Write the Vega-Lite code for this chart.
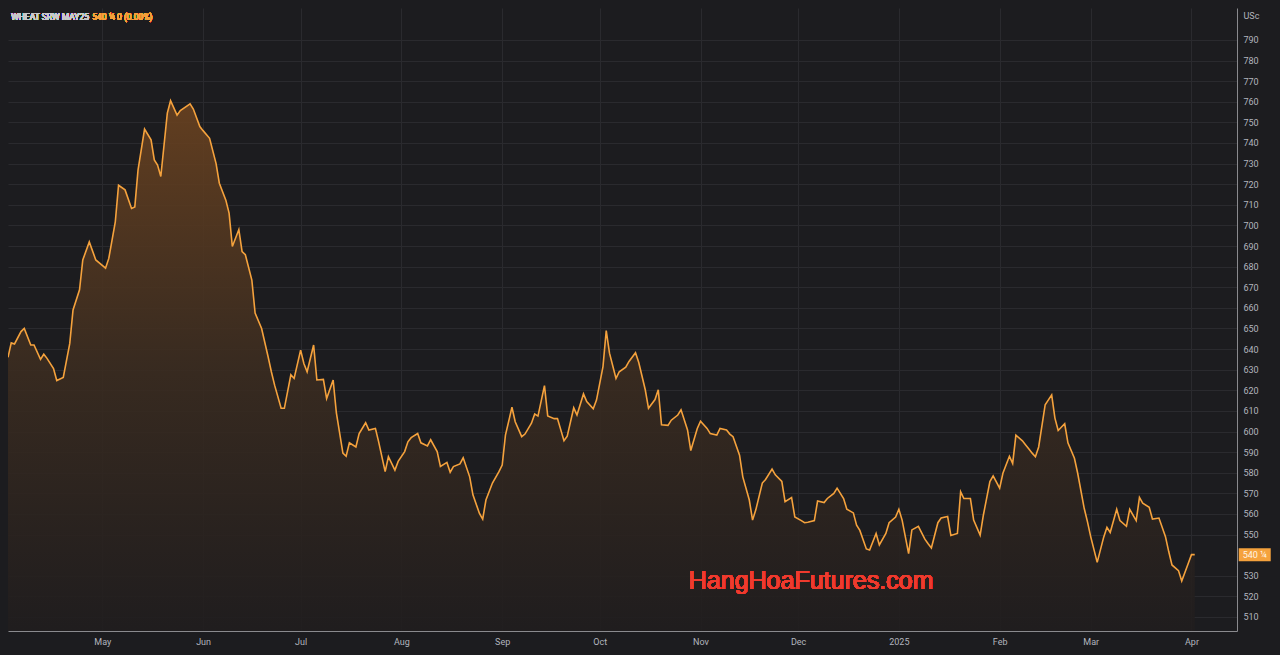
{
  "$schema": "https://vega.github.io/schema/vega-lite/v6.json",
  "width": 1229,
  "height": 623,
  "autosize": {"type": "none"},
  "padding": {"left": 8, "top": 8, "right": 43, "bottom": 24},
  "background": "#1c1c1f",
  "config": {
    "view": {"stroke": null, "fill": "#1c1c1f"},
    "font": "Roboto"
  },
  "data": {
    "values": [
      {"date": "2024-04-02", "price": 636},
      {"date": "2024-04-03", "price": 643},
      {"date": "2024-04-04", "price": 642.5},
      {"date": "2024-04-06", "price": 648.5},
      {"date": "2024-04-07", "price": 650},
      {"date": "2024-04-09", "price": 642},
      {"date": "2024-04-10", "price": 642},
      {"date": "2024-04-12", "price": 635},
      {"date": "2024-04-13", "price": 637.5},
      {"date": "2024-04-14", "price": 635.5},
      {"date": "2024-04-16", "price": 630.5},
      {"date": "2024-04-17", "price": 624.75},
      {"date": "2024-04-19", "price": 626.25},
      {"date": "2024-04-21", "price": 642.75},
      {"date": "2024-04-22", "price": 659},
      {"date": "2024-04-24", "price": 668.75},
      {"date": "2024-04-25", "price": 683.25},
      {"date": "2024-04-27", "price": 692},
      {"date": "2024-04-29", "price": 683.25},
      {"date": "2024-05-02", "price": 679.25},
      {"date": "2024-05-03", "price": 684},
      {"date": "2024-05-05", "price": 701.75},
      {"date": "2024-05-06", "price": 719.5},
      {"date": "2024-05-08", "price": 717.25},
      {"date": "2024-05-10", "price": 708.25},
      {"date": "2024-05-11", "price": 709},
      {"date": "2024-05-12", "price": 727},
      {"date": "2024-05-14", "price": 746.75},
      {"date": "2024-05-16", "price": 741.5},
      {"date": "2024-05-17", "price": 731.75},
      {"date": "2024-05-18", "price": 729.25},
      {"date": "2024-05-19", "price": 723.75},
      {"date": "2024-05-21", "price": 754.5},
      {"date": "2024-05-22", "price": 760.5},
      {"date": "2024-05-24", "price": 753.5},
      {"date": "2024-05-25", "price": 755.75},
      {"date": "2024-05-28", "price": 759},
      {"date": "2024-05-29", "price": 756.5},
      {"date": "2024-05-31", "price": 748},
      {"date": "2024-06-01", "price": 746},
      {"date": "2024-06-03", "price": 742.25},
      {"date": "2024-06-05", "price": 730},
      {"date": "2024-06-06", "price": 720.5},
      {"date": "2024-06-08", "price": 712.25},
      {"date": "2024-06-09", "price": 706},
      {"date": "2024-06-10", "price": 689.75},
      {"date": "2024-06-12", "price": 698},
      {"date": "2024-06-13", "price": 687.25},
      {"date": "2024-06-14", "price": 685.75},
      {"date": "2024-06-16", "price": 673.5},
      {"date": "2024-06-17", "price": 657.5},
      {"date": "2024-06-19", "price": 650},
      {"date": "2024-06-21", "price": 636.25},
      {"date": "2024-06-22", "price": 629},
      {"date": "2024-06-23", "price": 622.5},
      {"date": "2024-06-25", "price": 611.25},
      {"date": "2024-06-26", "price": 611.25},
      {"date": "2024-06-28", "price": 627.5},
      {"date": "2024-06-29", "price": 625.75},
      {"date": "2024-07-01", "price": 639.5},
      {"date": "2024-07-02", "price": 633},
      {"date": "2024-07-03", "price": 629},
      {"date": "2024-07-05", "price": 642},
      {"date": "2024-07-06", "price": 625},
      {"date": "2024-07-08", "price": 625.25},
      {"date": "2024-07-09", "price": 616},
      {"date": "2024-07-11", "price": 625},
      {"date": "2024-07-12", "price": 609},
      {"date": "2024-07-14", "price": 589.5},
      {"date": "2024-07-15", "price": 588},
      {"date": "2024-07-16", "price": 594.5},
      {"date": "2024-07-18", "price": 592.5},
      {"date": "2024-07-19", "price": 599},
      {"date": "2024-07-21", "price": 604.25},
      {"date": "2024-07-22", "price": 600.75},
      {"date": "2024-07-24", "price": 601.5},
      {"date": "2024-07-25", "price": 595},
      {"date": "2024-07-27", "price": 580.5},
      {"date": "2024-07-28", "price": 587.75},
      {"date": "2024-07-30", "price": 581.25},
      {"date": "2024-07-31", "price": 585.5},
      {"date": "2024-08-02", "price": 590.25},
      {"date": "2024-08-03", "price": 595},
      {"date": "2024-08-04", "price": 597},
      {"date": "2024-08-06", "price": 599},
      {"date": "2024-08-07", "price": 594.5},
      {"date": "2024-08-09", "price": 593},
      {"date": "2024-08-10", "price": 596},
      {"date": "2024-08-12", "price": 590.25},
      {"date": "2024-08-13", "price": 583},
      {"date": "2024-08-15", "price": 585},
      {"date": "2024-08-16", "price": 580.25},
      {"date": "2024-08-17", "price": 583},
      {"date": "2024-08-19", "price": 584.25},
      {"date": "2024-08-20", "price": 587.25},
      {"date": "2024-08-22", "price": 578},
      {"date": "2024-08-23", "price": 569.25},
      {"date": "2024-08-25", "price": 560.25},
      {"date": "2024-08-26", "price": 557.5},
      {"date": "2024-08-27", "price": 566.75},
      {"date": "2024-08-29", "price": 575},
      {"date": "2024-08-31", "price": 580.5},
      {"date": "2024-09-01", "price": 583.75},
      {"date": "2024-09-02", "price": 598.25},
      {"date": "2024-09-04", "price": 611.75},
      {"date": "2024-09-05", "price": 604.75},
      {"date": "2024-09-07", "price": 597.5},
      {"date": "2024-09-08", "price": 598.75},
      {"date": "2024-09-10", "price": 604},
      {"date": "2024-09-11", "price": 608.5},
      {"date": "2024-09-12", "price": 607.5},
      {"date": "2024-09-14", "price": 622.25},
      {"date": "2024-09-15", "price": 607.5},
      {"date": "2024-09-17", "price": 606.25},
      {"date": "2024-09-18", "price": 606.25},
      {"date": "2024-09-20", "price": 595.5},
      {"date": "2024-09-21", "price": 597.75},
      {"date": "2024-09-23", "price": 611.5},
      {"date": "2024-09-24", "price": 608},
      {"date": "2024-09-26", "price": 618.25},
      {"date": "2024-09-27", "price": 614.5},
      {"date": "2024-09-29", "price": 611},
      {"date": "2024-09-30", "price": 615.25},
      {"date": "2024-10-02", "price": 631.5},
      {"date": "2024-10-03", "price": 649},
      {"date": "2024-10-04", "price": 638},
      {"date": "2024-10-06", "price": 625.75},
      {"date": "2024-10-07", "price": 629},
      {"date": "2024-10-09", "price": 631.25},
      {"date": "2024-10-10", "price": 634},
      {"date": "2024-10-12", "price": 638.25},
      {"date": "2024-10-13", "price": 633.5},
      {"date": "2024-10-15", "price": 620.25},
      {"date": "2024-10-16", "price": 611.25},
      {"date": "2024-10-18", "price": 615.5},
      {"date": "2024-10-19", "price": 620.25},
      {"date": "2024-10-20", "price": 603.25},
      {"date": "2024-10-22", "price": 603},
      {"date": "2024-10-23", "price": 605.5},
      {"date": "2024-10-25", "price": 608},
      {"date": "2024-10-26", "price": 610.5},
      {"date": "2024-10-28", "price": 600.75},
      {"date": "2024-10-29", "price": 590.75},
      {"date": "2024-10-31", "price": 601.5},
      {"date": "2024-11-01", "price": 605},
      {"date": "2024-11-03", "price": 601.5},
      {"date": "2024-11-04", "price": 599},
      {"date": "2024-11-06", "price": 598.25},
      {"date": "2024-11-07", "price": 601.5},
      {"date": "2024-11-09", "price": 600.75},
      {"date": "2024-11-10", "price": 598.75},
      {"date": "2024-11-11", "price": 597.5},
      {"date": "2024-11-13", "price": 588.5},
      {"date": "2024-11-14", "price": 578},
      {"date": "2024-11-16", "price": 566.75},
      {"date": "2024-11-17", "price": 557},
      {"date": "2024-11-18", "price": 562},
      {"date": "2024-11-20", "price": 575},
      {"date": "2024-11-21", "price": 576.75},
      {"date": "2024-11-23", "price": 581.75},
      {"date": "2024-11-24", "price": 579},
      {"date": "2024-11-26", "price": 575.75},
      {"date": "2024-11-27", "price": 566},
      {"date": "2024-11-29", "price": 568},
      {"date": "2024-11-30", "price": 558.5},
      {"date": "2024-12-02", "price": 556.75},
      {"date": "2024-12-03", "price": 555.75},
      {"date": "2024-12-04", "price": 556},
      {"date": "2024-12-06", "price": 556.75},
      {"date": "2024-12-07", "price": 566.25},
      {"date": "2024-12-09", "price": 565.5},
      {"date": "2024-12-10", "price": 567.5},
      {"date": "2024-12-12", "price": 570},
      {"date": "2024-12-13", "price": 572.5},
      {"date": "2024-12-15", "price": 567.5},
      {"date": "2024-12-16", "price": 562.25},
      {"date": "2024-12-18", "price": 560.5},
      {"date": "2024-12-19", "price": 554.5},
      {"date": "2024-12-20", "price": 552},
      {"date": "2024-12-22", "price": 543},
      {"date": "2024-12-23", "price": 542.5},
      {"date": "2024-12-25", "price": 550.5},
      {"date": "2024-12-26", "price": 545},
      {"date": "2024-12-28", "price": 550.5},
      {"date": "2024-12-29", "price": 555.75},
      {"date": "2024-12-31", "price": 558.5},
      {"date": "2025-01-01", "price": 562.25},
      {"date": "2025-01-02", "price": 557},
      {"date": "2025-01-04", "price": 540.75},
      {"date": "2025-01-05", "price": 552.25},
      {"date": "2025-01-07", "price": 554},
      {"date": "2025-01-09", "price": 547.75},
      {"date": "2025-01-10", "price": 545.5},
      {"date": "2025-01-11", "price": 543.5},
      {"date": "2025-01-13", "price": 555.75},
      {"date": "2025-01-14", "price": 558},
      {"date": "2025-01-16", "price": 558.75},
      {"date": "2025-01-17", "price": 549.5},
      {"date": "2025-01-19", "price": 550.5},
      {"date": "2025-01-20", "price": 570.75},
      {"date": "2025-01-21", "price": 567.5},
      {"date": "2025-01-23", "price": 567.5},
      {"date": "2025-01-24", "price": 557},
      {"date": "2025-01-26", "price": 549.75},
      {"date": "2025-01-27", "price": 559.5},
      {"date": "2025-01-29", "price": 575.75},
      {"date": "2025-01-30", "price": 578.5},
      {"date": "2025-02-01", "price": 572.5},
      {"date": "2025-02-02", "price": 579.75},
      {"date": "2025-02-04", "price": 588},
      {"date": "2025-02-05", "price": 584.5},
      {"date": "2025-02-06", "price": 598.25},
      {"date": "2025-02-08", "price": 595.5},
      {"date": "2025-02-09", "price": 593.5},
      {"date": "2025-02-10", "price": 591.5},
      {"date": "2025-02-11", "price": 589.5},
      {"date": "2025-02-12", "price": 587.75},
      {"date": "2025-02-13", "price": 592.5},
      {"date": "2025-02-15", "price": 613},
      {"date": "2025-02-17", "price": 617.75},
      {"date": "2025-02-18", "price": 606.5},
      {"date": "2025-02-19", "price": 600.5},
      {"date": "2025-02-21", "price": 603.75},
      {"date": "2025-02-22", "price": 594.5},
      {"date": "2025-02-24", "price": 587},
      {"date": "2025-02-25", "price": 579.75},
      {"date": "2025-02-27", "price": 562.75},
      {"date": "2025-02-28", "price": 556.25},
      {"date": "2025-03-01", "price": 549},
      {"date": "2025-03-03", "price": 536.5},
      {"date": "2025-03-05", "price": 548.75},
      {"date": "2025-03-06", "price": 553.5},
      {"date": "2025-03-07", "price": 551},
      {"date": "2025-03-09", "price": 562.25},
      {"date": "2025-03-10", "price": 556.75},
      {"date": "2025-03-12", "price": 554},
      {"date": "2025-03-13", "price": 562.25},
      {"date": "2025-03-15", "price": 556.75},
      {"date": "2025-03-16", "price": 568},
      {"date": "2025-03-17", "price": 565.25},
      {"date": "2025-03-19", "price": 563.25},
      {"date": "2025-03-20", "price": 557.5},
      {"date": "2025-03-22", "price": 558},
      {"date": "2025-03-24", "price": 549},
      {"date": "2025-03-25", "price": 541.75},
      {"date": "2025-03-26", "price": 535.25},
      {"date": "2025-03-28", "price": 532.5},
      {"date": "2025-03-29", "price": 527.5},
      {"date": "2025-03-31", "price": 536},
      {"date": "2025-04-01", "price": 540.25},
      {"date": "2025-04-02", "price": 540.25}
    ]
  },
  "encoding": {
    "x": {
      "field": "date",
      "type": "temporal",
      "scale": {
        "type": "utc",
        "domain": [
          {"year": 2024, "month": 4, "date": 2, "utc": true},
          {"year": 2025, "month": 4, "date": 15, "utc": true}
        ]
      },
      "axis": {
        "title": null,
        "orient": "bottom",
        "tickCount": {"interval": "month", "step": 1},
        "labelExpr": "utcmonth(datum.value) == 0 ? utcFormat(datum.value, '%Y') : utcFormat(datum.value, '%b')",
        "grid": true,
        "gridColor": "#2a2a2e",
        "gridWidth": 1,
        "domainColor": "#8a8a8e",
        "ticks": false,
        "labelColor": "#b2b5be",
        "labelFont": "Roboto",
        "labelFontSize": 9,
        "labelPadding": 6,
        "labelFlush": false,
        "labelOverlap": false
      }
    },
    "y": {
      "field": "price",
      "type": "quantitative",
      "scale": {"domain": [503.2, 805.5], "zero": false, "nice": false},
      "axis": {
        "orient": "right",
        "values": [510, 520, 530, 550, 560, 570, 580, 590, 600, 610, 620, 630, 640, 650, 660, 670, 680, 690, 700, 710, 720, 730, 740, 750, 760, 770, 780, 790],
        "grid": true,
        "gridColor": "#2a2a2e",
        "domainColor": "#8a8a8e",
        "ticks": false,
        "labelColor": "#b2b5be",
        "labelFont": "Roboto",
        "labelFontSize": 9,
        "labelPadding": 6,
        "labelAlign": "left",
        "title": "USc",
        "titleAngle": 0,
        "titleAlign": "left",
        "titleBaseline": "middle",
        "titleX": 6,
        "titleY": 7,
        "titleColor": "#b2b5be",
        "titleFont": "Roboto",
        "titleFontSize": 9,
        "titleFontWeight": "normal"
      }
    }
  },
  "layer": [
    {
      "mark": {
        "type": "area",
        "clip": true,
        "line": false,
        "opacity": 0.9,
        "color": {
          "gradient": "linear",
          "x1": 0, "y1": 0, "x2": 0, "y2": 1,
          "stops": [
            {"offset": 0, "color": "#6a4220"},
            {"offset": 0.5, "color": "#3b2c20"},
            {"offset": 1, "color": "#201d1e"}
          ]
        }
      },
      "encoding": {
        "y2": {"datum": 503.2}
      }
    },
    {
      "mark": {"type": "line", "clip": true, "color": "#f5a23d", "strokeWidth": 1.6}
    },
    {
      "transform": [{"filter": "utcyear(toDate(datum.date)) == 2025 && utcmonth(toDate(datum.date)) == 3 && utcdate(toDate(datum.date)) == 2"}],
      "mark": {
        "type": "point",
        "shape": "M-1,-0.40625H1V0.40625H-1Z",
        "size": 1024,
        "filled": true,
        "opacity": 1,
        "color": "#f5a23d",
        "xOffset": 60
      }
    },
    {
      "transform": [{"filter": "utcyear(toDate(datum.date)) == 2025 && utcmonth(toDate(datum.date)) == 3 && utcdate(toDate(datum.date)) == 2"}],
      "mark": {
        "type": "text",
        "text": "540 ¼",
        "align": "center",
        "baseline": "middle",
        "font": "Roboto",
        "fontSize": 9,
        "color": "#fff4e4",
        "xOffset": 60
      }
    },
    {
      "mark": {
        "type": "text",
        "text": "WHEAT SRW MAY25",
        "align": "left",
        "baseline": "middle",
        "font": "Roboto",
        "fontSize": 8.5,
        "color": "#c9c9cc"
      },
      "encoding": {
        "x": {"datum": {"year": 2024, "month": 4, "date": 3, "utc": true}, "type": "temporal"},
        "y": {"datum": 801, "type": "quantitative"}
      }
    },
    {
      "mark": {
        "type": "text",
        "text": "540 ¼  0 (0.00%)",
        "align": "left",
        "baseline": "middle",
        "font": "Roboto",
        "fontSize": 8.5,
        "color": "#f5a23d",
        "dx": 81
      },
      "encoding": {
        "x": {"datum": {"year": 2024, "month": 4, "date": 3, "utc": true}, "type": "temporal"},
        "y": {"datum": 801, "type": "quantitative"}
      }
    },
    {
      "mark": {
        "type": "text",
        "text": "HangHoaFutures.com",
        "align": "center",
        "baseline": "middle",
        "font": "Liberation Sans",
        "fontSize": 25,
        "color": "#ee3b2e"
      },
      "encoding": {
        "x": {"datum": {"year": 2024, "month": 12, "date": 5, "utc": true}, "type": "temporal"},
        "y": {"datum": 527.5, "type": "quantitative"}
      }
    }
  ]
}
